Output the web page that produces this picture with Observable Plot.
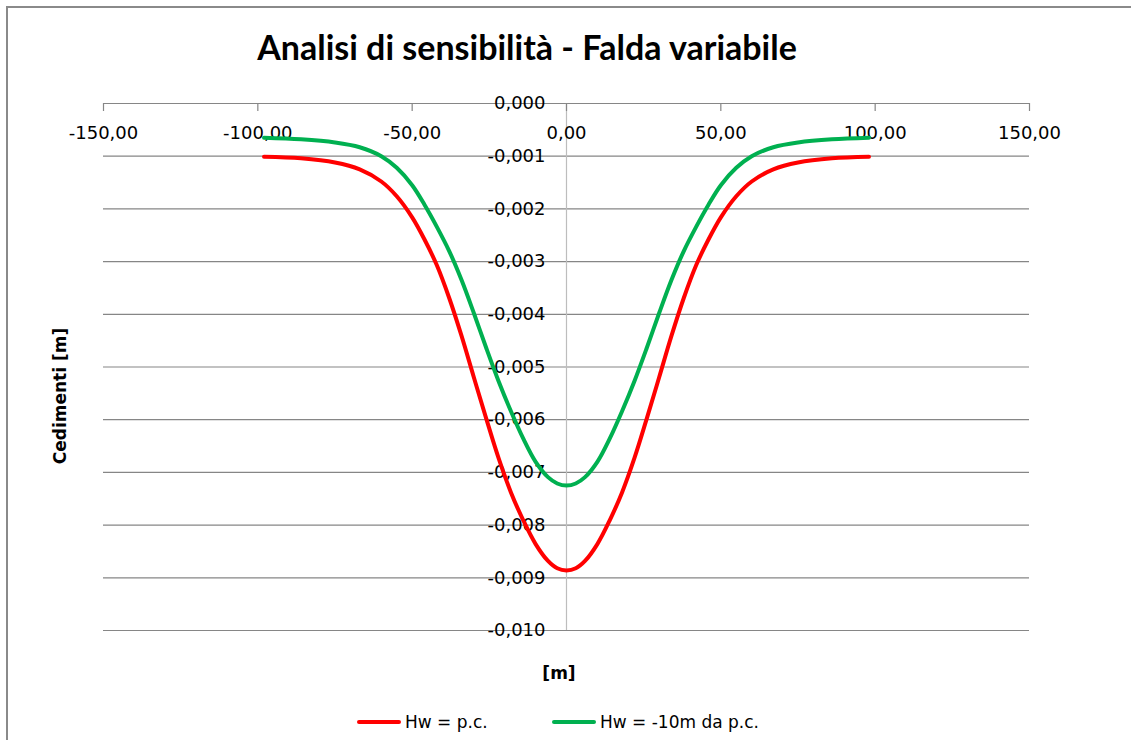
<!DOCTYPE html>
<html>
<head>
<meta charset="utf-8">
<script src="https://cdn.jsdelivr.net/npm/d3@7"></script>
<script src="https://cdn.jsdelivr.net/npm/@observablehq/plot@0.6"></script>
<style>
  html, body { margin: 0; padding: 0; background: #fff; }
  #page { position: relative; width: 1131px; height: 740px; overflow: hidden; background: #fff; font-family: "DejaVu Sans", sans-serif; }
  #frame { position: absolute; left: 6px; top: 6px; width: 1150px; height: 760px; border: 2px solid #8a8a8a; box-sizing: border-box; }
  #chart { position: absolute; left: 0; top: 0; }
  #title { position: absolute; left: 0; width: 1054px; top: 26px; text-align: center; font-family: Lato, sans-serif; font-weight: bold; font-size: 34px; color: #000; white-space: nowrap; }
  #ytitle { position: absolute; left: 60px; top: 396px; transform: translate(-50%, -50%) rotate(-90deg); font-weight: bold; font-size: 17px; white-space: nowrap; }
  #xtitle { position: absolute; left: 559px; top: 673px; transform: translate(-50%, -50%); font-weight: bold; font-size: 17px; }
  .leg { position: absolute; top: 712px; font-size: 17px; white-space: nowrap; display: flex; align-items: center; }
  .sw { display: inline-block; width: 44px; height: 4px; border-radius: 2px; margin-right: 4px; }
</style>
</head>
<body>
<div id="page">
  <div id="frame"></div>
  <div id="chart"></div>
  <div id="title">Analisi di sensibilità - Falda variabile</div>
  <div id="ytitle">Cedimenti [m]</div>
  <div id="xtitle">[m]</div>
  <div class="leg" style="left:357px"><span class="sw" style="background:#ff0000"></span>Hw = p.c.</div>
  <div class="leg" style="left:552px"><span class="sw" style="background:#00b050"></span>Hw = -10m da p.c.</div>
</div>
<script>
// Distance from axis [m]
const xs = [-98, -86, -75, -67, -60, -55, -50, -46, -42, -38, -34, -30, -26, -22, -18, -14, -10, -6, -3, 0,
            3, 6, 10, 14, 18, 22, 26, 30, 34, 38, 42, 46, 50, 55, 60, 67, 75, 86, 98];
// Settlements, Hw = p.c. [m]
const redVals = [-0.00101, -0.00104, -0.00112, -0.00125, -0.00148, -0.00176, -0.00216, -0.00258, -0.00307, -0.00369,
                 -0.00441, -0.00520, -0.00598, -0.00673, -0.00738, -0.00791, -0.00836, -0.00868, -0.00882, -0.00886,
                 -0.00882, -0.00868, -0.00836, -0.00791, -0.00738, -0.00673, -0.00598, -0.00520, -0.00441, -0.00369,
                 -0.00307, -0.00258, -0.00216, -0.00176, -0.00148, -0.00125, -0.00112, -0.00104, -0.00101];
// Settlements, Hw = -10m da p.c. [m]
const greenVals = [-0.00065, -0.00068, -0.00074, -0.00083, -0.00100, -0.00122, -0.00155, -0.00192, -0.00234, -0.00280,
                   -0.00335, -0.00398, -0.00464, -0.00527, -0.00584, -0.00636, -0.00680, -0.00709, -0.00721, -0.00725,
                   -0.00721, -0.00709, -0.00680, -0.00636, -0.00584, -0.00527, -0.00464, -0.00398, -0.00335, -0.00280,
                   -0.00234, -0.00192, -0.00155, -0.00122, -0.00100, -0.00083, -0.00074, -0.00068, -0.00065];
const xTicks = [-150, -100, -50, 0, 50, 100, 150];
const yTicks = [0, -0.001, -0.002, -0.003, -0.004, -0.005, -0.006, -0.007, -0.008, -0.009, -0.010];

const red = xs.map((x, i) => ({x, y: redVals[i]}));
const green = xs.map((x, i) => ({x, y: greenVals[i]}));

const fmtX = d => d.toFixed(2).replace(".", ",");
const fmtY = d => (d === 0 ? "0,000" : d.toFixed(3).replace(".", ","));

const chart = Plot.plot({
  width: 1131,
  height: 740,
  marginLeft: 103,
  marginRight: 102,
  marginTop: 103,
  marginBottom: 110,
  x: {domain: [-150, 150], axis: null},
  y: {domain: [-0.010, 0], axis: null},
  style: {fontFamily: "DejaVu Sans", fontSize: "18px", background: "transparent", color: "#000"},
  marks: [
    Plot.ruleY(yTicks, {y: d => d, stroke: "#868686", strokeWidth: 1.2}),
    Plot.ruleX([0], {x: d => d, y1: 0, y2: -0.010, stroke: "#bdbdbd", strokeWidth: 1.2}),
    Plot.ruleX(xTicks, {x: d => d, y1: 0, y2: 0, insetBottom: -8, stroke: "#868686", strokeWidth: 1.2}),
    Plot.text(yTicks, {x: 0, y: d => d, text: fmtY, textAnchor: "end", dx: -21, fill: "#000"}),
    Plot.text(xTicks, {x: d => d, y: 0, text: fmtX, dy: 30, fill: "#000"}),
    Plot.line(red, {x: "x", y: "y", stroke: "#ff0000", strokeWidth: 4, curve: "catmull-rom"}),
    Plot.line(green, {x: "x", y: "y", stroke: "#00b050", strokeWidth: 4, curve: "catmull-rom"})
  ]
});
document.getElementById("chart").appendChild(chart);
</script>
</body>
</html>
